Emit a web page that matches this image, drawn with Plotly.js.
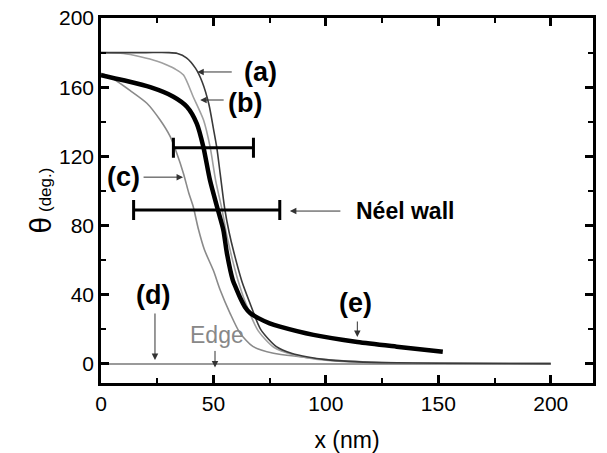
<!DOCTYPE html>
<html>
<head>
<meta charset="utf-8">
<script src="https://cdn.plot.ly/plotly-3.0.1.min.js"></script>
<style>html,body{margin:0;padding:0;background:#fff;}</style>
</head>
<body>
<div id="chart" style="width:607px;height:453px;"></div>
<script>
// Curve (a)
const xA = [0, 20, 30, 34, 38, 42, 45, 48, 50, 51.5, 53, 55, 57, 59, 62.6, 66, 71, 78, 85, 92, 100, 110, 125, 150, 200];
const yA = [180, 180, 180, 179.5, 177, 171, 163, 150, 136, 125, 110, 90, 76, 65, 48, 36, 20, 10, 6, 4, 2.5, 1.5, 0.8, 0.4, 0.2];
// Curve (b)
const xB = [0, 10, 17.5, 25, 29.3, 33, 36.7, 41, 45.6, 48.5, 51, 53.7, 56, 58.5, 61, 65, 70, 77, 85, 92, 100, 110, 125, 150, 200];
const yB = [180, 179.5, 177.6, 175, 172.8, 170.5, 167, 154.5, 141, 125.6, 106, 90, 74, 60, 48, 33, 19, 9.5, 5.5, 3.5, 2.2, 1.3, 0.7, 0.3, 0.2];
// Curve (c)
const xC = [0, 4, 13, 20.4, 26.3, 30.8, 33.7, 36.7, 39, 41, 43.3, 46, 50, 53, 57.4, 61.9, 67.7, 76.7, 88.5, 100, 120, 150, 200];
const yC = [168, 166, 158, 150.7, 141, 131.4, 121.8, 110, 99, 91, 78, 66, 54, 42.8, 29.3, 17.7, 10, 6.2, 4.2, 2.5, 1, 0.5, 0.2];
// Curve (d): edge, theta = 0
const xD = [0, 50, 100, 150, 200];
const yD = [0, 0, 0, 0, 0];
// Curve (e): thick
const xE = [0, 10, 21.9, 32.2, 38.2, 42.6, 45.5, 48.5, 52, 54.4, 56, 58.6, 60, 62, 64, 66.3, 70, 75, 79.6, 94.5, 114, 131.5, 152];
const yE = [167, 164, 160, 154.5, 148.7, 139, 125.6, 106, 89, 77.5, 64, 48.5, 44, 38, 33, 29.5, 26.5, 23.5, 21.6, 16.8, 12.7, 10, 7.1];
// Horizontal bars (wall widths)
const barX = [50, 47];
const barY = [125, 89];
const barHalf = [17.8, 32.5];

const sm = 0.7;
const traces = [
  {x: xD, y: yD, mode: 'lines', showlegend: false, line: {color: '#9a9a9a', width: 2}, hoverinfo: 'skip'},
  {x: xC, y: yC, mode: 'lines', showlegend: false, line: {color: '#8a8a8a', width: 1.6, shape: 'spline', smoothing: sm}, hoverinfo: 'skip'},
  {x: xB, y: yB, mode: 'lines', showlegend: false, line: {color: '#a0a0a0', width: 1.6, shape: 'spline', smoothing: sm}, hoverinfo: 'skip'},
  {x: xA, y: yA, mode: 'lines', showlegend: false, line: {color: '#3a3a3a', width: 1.6, shape: 'spline', smoothing: sm}, hoverinfo: 'skip'},
  {x: xE, y: yE, mode: 'lines', showlegend: false, line: {color: '#000', width: 4.5, shape: 'spline', smoothing: sm}, hoverinfo: 'skip'},
  {x: barX, y: barY, mode: 'markers', showlegend: false, marker: {size: 1, color: 'rgba(0,0,0,0)'},
   error_x: {type: 'data', array: barHalf, visible: true, color: '#000', thickness: 3, width: 10}, hoverinfo: 'skip'}
];

const fnt = 'Liberation Sans, Arial, sans-serif';
function txt(x, y, t, size, color, bold) {
  return {x: x, y: y, xref: 'x', yref: 'y', text: bold ? '<b>' + t + '</b>' : t, showarrow: false,
          font: {family: fnt, size: size, color: color || '#000'}};
}
function arr(x, y, ax, ay) {
  return {x: x, y: y, xref: 'x', yref: 'y', text: '', showarrow: true, ax: ax, ay: ay,
          arrowhead: 2, arrowsize: 1.3, arrowwidth: 1, arrowcolor: '#333'};
}

const layout = {
  width: 607, height: 453,
  margin: {l: 101, r: 14, t: 18, b: 70},
  xaxis: {
    range: [0, 218.8], dtick: 50, tick0: 0,
    ticks: 'inside', ticklen: 8, tickwidth: 2.5, tickcolor: 'black',
    minor: {dtick: 25, ticks: 'inside', ticklen: 5, tickwidth: 2, tickcolor: 'black'},
    showline: true, linecolor: 'black', linewidth: 2.5, mirror: 'allticks',
    showgrid: true, gridcolor: 'rgba(255,255,255,0)', zeroline: false,
    tickfont: {family: fnt, size: 21, color: '#000'},
    title: {text: 'x (nm)', font: {family: fnt, size: 23, color: '#000'}}
  },
  yaxis: {
    range: [-11, 200], dtick: 40, tick0: 0,
    ticks: 'inside', ticklen: 8, tickwidth: 2.5, tickcolor: 'black',
    minor: {dtick: 20, ticks: 'inside', ticklen: 5, tickwidth: 2, tickcolor: 'black'},
    showline: true, linecolor: 'black', linewidth: 2.5, mirror: 'allticks',
    showgrid: true, gridcolor: 'rgba(255,255,255,0)', zeroline: false,
    tickfont: {family: fnt, size: 21, color: '#000'},
    title: {text: '<span style="font-size:30px">θ</span> (deg.)', font: {family: fnt, size: 17, color: '#000'}}
  },
  annotations: [
    arr(42.8, 168.8, 36, 0),
    arr(44.1, 152.6, 25, 0),
    arr(36.5, 108, -41, 0),
    arr(24, 2.3, 0, -48),
    arr(50.7, -2, 0, -18),
    arr(114, 15.6, 0, -17),
    arr(84, 88.4, 52, 0),
    txt(70.8, 168.8, '(a)', 27, '#000', true),
    txt(64.1, 150.9, '(b)', 27, '#000', true),
    txt(9.9, 108, '(c)', 27, '#000', true),
    txt(23.2, 39.9, '(d)', 27, '#000', true),
    txt(51.6, 16.8, 'Edge', 23, '#888', false),
    txt(113, 35.3, '(e)', 27, '#000', true),
    txt(135, 88.4, 'Néel wall', 23, '#000', true)
  ]
};

Plotly.newPlot('chart', traces, layout, {displayModeBar: false});
</script>
</body>
</html>
